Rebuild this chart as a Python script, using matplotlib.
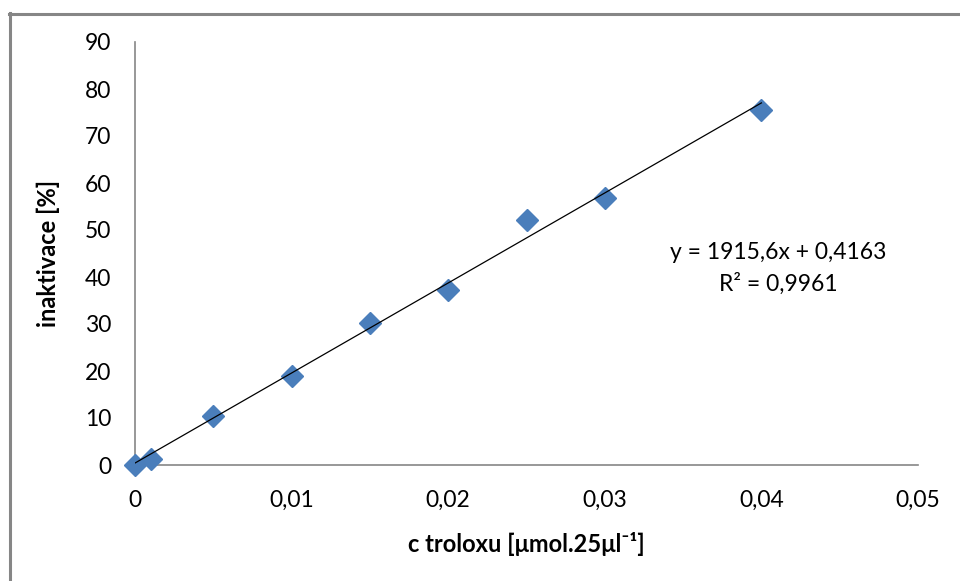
import matplotlib
matplotlib.use("Agg")
import matplotlib.pyplot as plt
from matplotlib.lines import Line2D
import numpy as np

plt.rcParams['font.family'] = ['Lato', 'DejaVu Sans']

# Trolox calibration data
conc = [0.0, 0.001, 0.005, 0.01, 0.015, 0.02, 0.025, 0.03, 0.04]
inact = [0.0, 1.2, 10.5, 18.9, 30.3, 37.3, 52.1, 56.8, 75.5]

slope = 1915.6
intercept = 0.4163
r2 = 0.9961

x_ticks = [0, 0.01, 0.02, 0.03, 0.04, 0.05]
x_ticklabels = ["0", "0,01", "0,02", "0,03", "0,04", "0,05"]
y_ticks = [0, 10, 20, 30, 40, 50, 60, 70, 80, 90]

fig = plt.figure(figsize=(9.6, 5.81), dpi=100)
ax = fig.add_axes([135/960, 1 - 465/581, (918 - 135)/960, (465 - 42)/581])

spine_col = "#868686"
marker_col = "#4A7EBB"
fs = 16.5

ax.plot(conc, inact, linestyle="none", marker="D", markersize=11.5,
        color=marker_col, zorder=3, clip_on=False)

xf = np.array([0.0, 0.04])
ax.plot(xf, slope * xf + intercept, color="black", linewidth=0.9, zorder=4)

ax.set_xlim(0, 0.05)
ax.set_ylim(0, 90)
ax.set_xticks(x_ticks)
ax.set_xticklabels(x_ticklabels)
ax.set_yticks(y_ticks)
ax.tick_params(axis="both", length=0, labelsize=fs, colors="black")
ax.tick_params(axis="x", pad=18)
ax.tick_params(axis="y", pad=17)

for s in ["top", "right"]:
    ax.spines[s].set_visible(False)
for s in ["left", "bottom"]:
    ax.spines[s].set_color(spine_col)
    ax.spines[s].set_linewidth(1.2)

ax.set_xlabel("c troloxu [μmol.25μl⁻¹]", fontsize=17, fontweight="bold", labelpad=15)
ax.set_ylabel("inaktivace [%]", fontsize=17, fontweight="bold", labelpad=18)

ax.text(0.0411, 45.2, "y = 1915,6x + 0,4163", fontsize=fs, ha="center", va="center")
ax.text(0.0411, 38.6, "R² = 0,9961", fontsize=fs, ha="center", va="center")

# outer chart frame
fig.add_artist(Line2D([9/960, 1.0], [1 - 14/581, 1 - 14/581], color=spine_col,
                      linewidth=2.2, transform=fig.transFigure))
fig.add_artist(Line2D([10/960, 10/960], [1 - 13/581, 0.0], color=spine_col,
                      linewidth=2.2, transform=fig.transFigure))

fig.savefig("out.png", dpi=100)
